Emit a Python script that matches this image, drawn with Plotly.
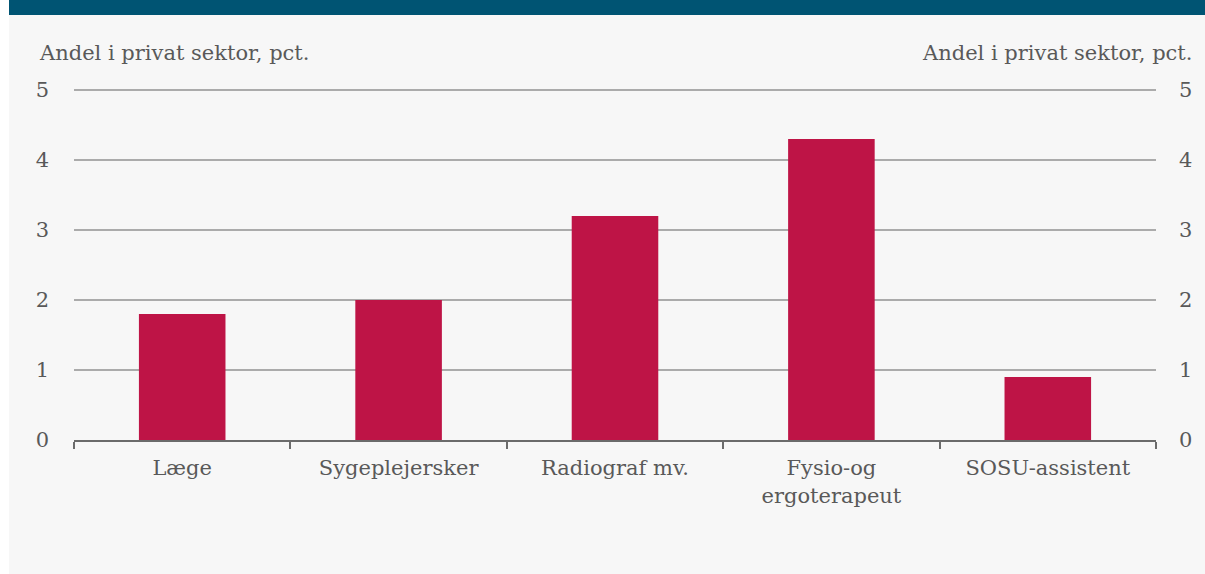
import plotly.graph_objects as go

# Andel ansatte i privat sektor efter faggruppe (pct.)
categories = ["Læge", "Sygeplejersker", "Radiograf mv.", "Fysio-og<br>ergoterapeut", "SOSU-assistent"]
values = [1.8, 2.0, 3.2, 4.3, 0.9]
y_ticks = [0, 1, 2, 3, 4, 5]
axis_title = "Andel i privat sektor, pct."

W, H = 1205, 574
Y_MAX = 5.1
UNIT = 70  # pixels per percentage point
L, R, B = 74, 49, 134
T = int(round(H - B - UNIT * Y_MAX))
PW, PH = W - L - R, H - T - B

TEXT = "#595959"
GRID = "#ababab"
AXIS = "#6b6b6b"
BAR = "#BE1446"
PANEL = "#f7f7f7"
BANNER = "#005473"
FONT = "DejaVu Serif"
FS = 21


def px(x):
    return (x - L) / PW


def py(y):
    return (H - B - y) / PH


fig = go.Figure()
fig.add_trace(go.Bar(x=categories, y=values, marker=dict(color=BAR, line=dict(width=0)),
                     showlegend=False, hoverinfo="x+y"))
# invisible trace to carry the right-hand axis
fig.add_trace(go.Scatter(x=categories, y=values, yaxis="y2", mode="markers",
                         marker=dict(opacity=0), showlegend=False, hoverinfo="skip"))

fig.update_layout(
    width=W, height=H,
    margin=dict(l=L, r=R, t=T, b=B, pad=0),
    paper_bgcolor="white",
    plot_bgcolor="rgba(0,0,0,0)",
    font=dict(family=FONT, size=FS, color=TEXT),
    bargap=0.6,
    xaxis=dict(
        showgrid=False, showline=True, linecolor=AXIS, linewidth=2,
        ticks="outside", tickson="boundaries", ticklen=7, tickwidth=2, tickcolor=AXIS,
        ticklabelstandoff=8,
        tickfont=dict(family=FONT, size=FS, color=TEXT),
        fixedrange=True,
    ),
    yaxis=dict(
        range=[0, Y_MAX], tickvals=y_ticks, showgrid=True, gridcolor=GRID, gridwidth=2,
        zeroline=False, showline=False, ticks="", ticklabelstandoff=24,
        tickfont=dict(family=FONT, size=FS, color=TEXT),
    ),
    yaxis2=dict(
        range=[0, Y_MAX], tickvals=y_ticks, overlaying="y", side="right", showgrid=False,
        zeroline=False, showline=False, ticks="", ticklabelstandoff=22,
        tickfont=dict(family=FONT, size=FS, color=TEXT),
    ),
    shapes=[
        dict(type="rect", xref="paper", yref="paper", x0=px(9), x1=px(W), y0=py(H), y1=py(15),
             fillcolor=PANEL, line=dict(width=0), layer="below"),
        dict(type="rect", xref="paper", yref="paper", x0=px(9), x1=px(W), y0=py(15), y1=py(-5),
             fillcolor=BANNER, line=dict(width=0), layer="below"),
    ],
    annotations=[
        dict(text=axis_title, xref="paper", yref="paper", x=px(37), y=py(53),
             xanchor="left", yanchor="middle", showarrow=False,
             font=dict(family=FONT, size=FS, color=TEXT)),
        dict(text=axis_title, xref="paper", yref="paper", x=px(1194), y=py(53),
             xanchor="right", yanchor="middle", showarrow=False,
             font=dict(family=FONT, size=FS, color=TEXT)),
    ],
)

fig.write_html("out.html")
